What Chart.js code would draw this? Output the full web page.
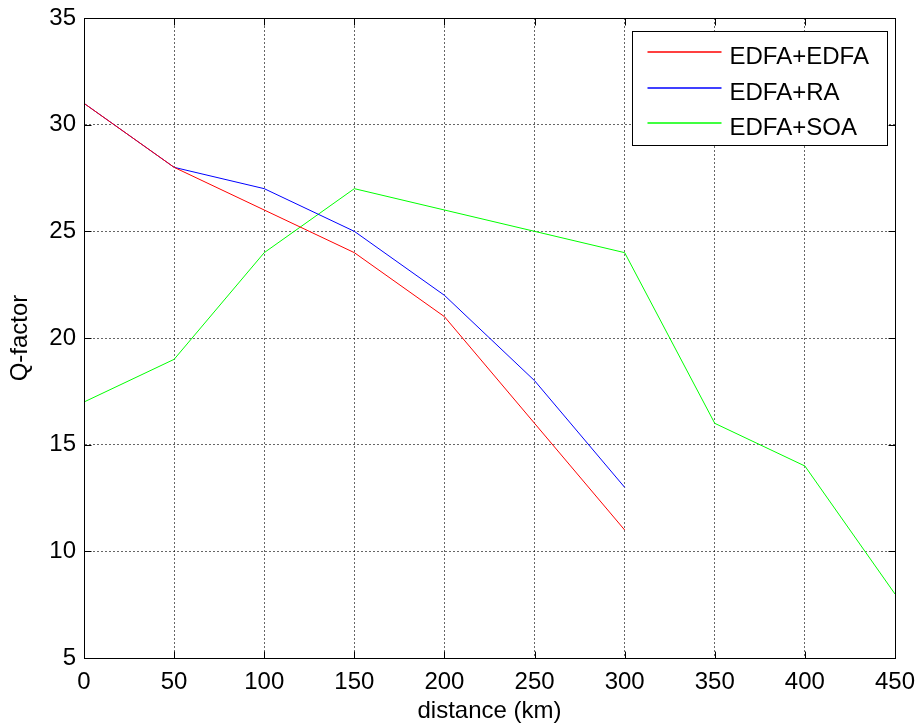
<!DOCTYPE html>
<html>
<head>
<meta charset="utf-8">
<script src="https://cdn.jsdelivr.net/npm/chart.js@4/dist/chart.umd.min.js"></script>
<style>
  html, body { margin: 0; padding: 0; background: #fff; }
  canvas { display: block; }
</style>
</head>
<body>
<canvas id="myChart" width="921" height="726"></canvas>
<script>
// distance in km, Q-factor per amplifier combination
const distance = [0, 50, 100, 150, 200, 250, 300, 350, 400, 450];
const qEdfaEdfa = [31, 28, 26, 24, 21, 16, 11];
const qEdfaRa = [31, 28, 27, 25, 22, 18, 13];
const qEdfaSoa = [17, 19, 24, 27, 26, 25, 24, 16, 14, 8];
const seriesNames = ["EDFA+EDFA", "EDFA+RA", "EDFA+SOA"];
const seriesColors = ["#ff0000", "#0000ff", "#00ff00"];

const xRange = [0, 450, 50];
const yRange = [5, 35, 5];

const FONT = "'Liberation Sans', Arial, Helvetica, sans-serif";

function toPoints(values) {
  return values.map((v, i) => ({ x: distance[i], y: v }));
}

// matlab style box: axis frame, inward ticks, legend in the top right corner
const matlabBox = {
  id: "matlabBox",
  afterDraw(chart) {
    const ctx = chart.ctx;
    const a = chart.chartArea;
    const xs = chart.scales.x;
    const ys = chart.scales.y;
    const l = Math.round(a.left) + 0.5;
    const r = Math.round(a.right) + 0.5;
    const t = Math.round(a.top) + 0.5;
    const b = Math.round(a.bottom) + 0.5;
    const tick = 7;

    ctx.save();
    ctx.strokeStyle = "#000";
    ctx.lineWidth = 1;
    ctx.strokeRect(l, t, r - l, b - t);

    ctx.beginPath();
    xs.ticks.forEach((tk) => {
      const px = Math.round(xs.getPixelForValue(tk.value)) + 0.5;
      ctx.moveTo(px, b); ctx.lineTo(px, b - tick);
      ctx.moveTo(px, t); ctx.lineTo(px, t + tick);
    });
    ys.ticks.forEach((tk) => {
      const py = Math.round(ys.getPixelForValue(tk.value)) + 0.5;
      ctx.moveTo(l, py); ctx.lineTo(l + tick, py);
      ctx.moveTo(r, py); ctx.lineTo(r - tick, py);
    });
    ctx.stroke();

    // legend
    const w = 255, h = 114;
    const bx = Math.round(a.right - 8 - w) + 0.5;
    const by = Math.round(a.top + 13) + 0.5;
    ctx.fillStyle = "#fff";
    ctx.fillRect(bx, by, w, h);
    ctx.strokeStyle = "#000";
    ctx.strokeRect(bx, by, w, h);

    ctx.font = "24px " + FONT;
    ctx.textBaseline = "alphabetic";
    ctx.textAlign = "left";
    chart.data.datasets.forEach((ds, i) => {
      const cy = Math.round(by + 20.5 + i * 35.5);
      ctx.strokeStyle = seriesColors[i];
      ctx.lineWidth = 1.4;
      ctx.beginPath();
      ctx.moveTo(bx + 15, cy);
      ctx.lineTo(bx + 89, cy);
      ctx.stroke();
      ctx.fillStyle = "#000";
      ctx.fillText(ds.label, bx + 97, cy + 12);
    });
    ctx.restore();
  },
};

new Chart("myChart", {
  type: "line",
  data: {
    datasets: [
      { label: seriesNames[0], data: toPoints(qEdfaEdfa), borderColor: seriesColors[0] },
      { label: seriesNames[1], data: toPoints(qEdfaRa), borderColor: seriesColors[1] },
      { label: seriesNames[2], data: toPoints(qEdfaSoa), borderColor: seriesColors[2] },
    ],
  },
  options: {
    responsive: false,
    animation: false,
    layout: { padding: { left: 0, top: 18, right: 26, bottom: 0 } },
    elements: {
      line: { borderWidth: 1, tension: 0, fill: false },
      point: { radius: 0, hoverRadius: 0 },
    },
    plugins: {
      legend: { display: false },
      tooltip: { enabled: false },
    },
    scales: {
      x: {
        type: "linear",
        min: xRange[0],
        max: xRange[1],
        ticks: { stepSize: xRange[2], color: "#000", padding: 10, maxRotation: 0, font: { family: FONT, size: 24 } },
        grid: { color: "rgba(0,0,0,0.6)", drawTicks: false },
        border: { display: true, color: "#000", width: 1, dash: [2, 2] },
        title: { display: true, text: "distance (km)", color: "#000", padding: { top: 0, bottom: 0 }, font: { family: FONT, size: 24 } },
        afterFit(scale) {
          scale.height = 68;
          scale.paddingLeft = 0;
          scale.paddingRight = 0;
        },
      },
      y: {
        type: "linear",
        min: yRange[0],
        max: yRange[1],
        ticks: { stepSize: yRange[2], color: "#000", padding: 8, font: { family: FONT, size: 24 } },
        grid: { color: "rgba(0,0,0,0.6)", drawTicks: false },
        border: { display: true, color: "#000", width: 1, dash: [2, 2] },
        title: { display: true, text: "Q-factor", color: "#000", padding: { top: 6, bottom: 0 }, font: { family: FONT, size: 24 } },
        afterFit(scale) {
          scale.width = 84;
          scale.paddingTop = 0;
          scale.paddingBottom = 0;
        },
      },
    },
  },
  plugins: [matlabBox],
});
</script>
</body>
</html>
